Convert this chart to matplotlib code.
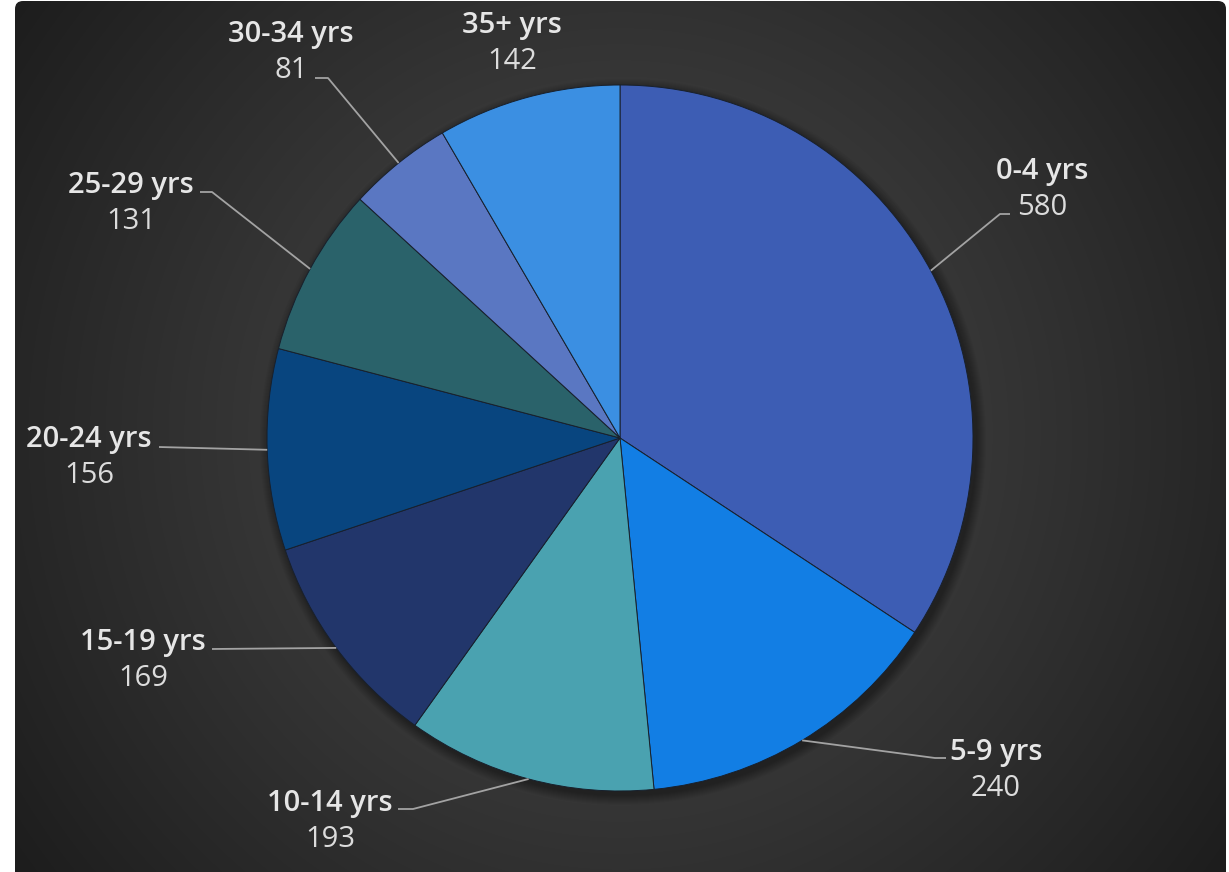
import numpy as np
import matplotlib
matplotlib.use('Agg')
import matplotlib.pyplot as plt
from matplotlib.patches import FancyBboxPatch, Circle

# data
categories = ['0-4 yrs', '5-9 yrs', '10-14 yrs', '15-19 yrs',
              '20-24 yrs', '25-29 yrs', '30-34 yrs', '35+ yrs']
values = [580, 240, 193, 169, 156, 131, 81, 142]
colors = ['#3d5db4', '#127ee4', '#4aa2b0', '#22366b',
          '#08457f', '#2a626a', '#5a77c2', '#3b8fe2']

# layout (pixel coords, y from top): label centre x, label baseline y, leader elbow, leader end
label_pos = [(1042, 179), (996, 760), (330, 811), (143, 650),
             (89, 447), (131, 193), (291, 42), (512, 33)]
elbows = [(1000, 214), (935, 758), (413, 809), (212, 649),
          (159, 447), (212, 192), (328, 78), None]
ends = [(1010, 214), (946, 758), (398, 809), (212, 649),
        (159, 447), (200, 192), (315, 78), None]

W, H = 1229, 872
cx, cy, R = 620, 438, 353

def py(y):
    return H - y

fig = plt.figure(figsize=(W / 100, H / 100), dpi=100)
fig.patch.set_facecolor('white')
ax = fig.add_axes([0, 0, 1, 1])
ax.set_xlim(0, W)
ax.set_ylim(0, H)
ax.set_aspect('equal')
ax.axis('off')

# dark radial gradient panel
xx, yy = np.meshgrid(np.arange(W), np.arange(H))
d = np.hypot(xx - cx, yy - cy) / np.hypot(cx, cy)
shade = 0x4a - (0x4a - 0x1c) * np.clip(d, 0, 1) ** 1.1
img = np.dstack([shade, shade, shade]) / 255.0
panel = FancyBboxPatch((15, -20), 1211, H + 20 - 1, boxstyle='round,pad=0,rounding_size=8',
                       facecolor='none', edgecolor='none', transform=ax.transData)
ax.add_patch(panel)
bg = ax.imshow(img, extent=(0, W, H, 0), origin='upper', zorder=0)
bg.set_clip_path(panel)
# imshow resets limits
ax.set_xlim(0, W)
ax.set_ylim(0, H)

# soft shadow under the pie
for k in range(10):
    ax.add_patch(Circle((cx + 3, py(cy) - 4), R + 10 - k, facecolor='black',
                        edgecolor='none', alpha=0.035, zorder=1))

wedges, _ = ax.pie(values, colors=colors, startangle=90, counterclock=False,
                   center=(cx, py(cy)), radius=R, frame=True,
                   wedgeprops=dict(edgecolor='#18202c', linewidth=0.7))
for w in wedges:
    w.set_zorder(2)
ax.set_xlim(0, W)
ax.set_ylim(0, H)
ax.axis('off')

total = sum(values)
cum = 0
for i, (cat, v) in enumerate(zip(categories, values)):
    mid = (cum + v / 2) / total * 2 * np.pi
    cum += v
    ex = cx + R * np.sin(mid)
    ey = cy - R * np.cos(mid)
    if elbows[i] is not None:
        xs = [ex, elbows[i][0], ends[i][0]]
        ys = [py(ey), py(elbows[i][1]), py(ends[i][1])]
        ax.plot(xs, ys, color='#a3a3a3', lw=1.3, zorder=3, solid_capstyle='butt')
    lx, ly = label_pos[i]
    ax.text(lx, py(ly), cat, ha='center', va='baseline', fontsize=21,
            family='Open Sans', weight='semibold', color='#e6e6e6', zorder=4)
    ax.text(lx, py(ly + 36), str(v), ha='center', va='baseline', fontsize=21,
            family='Open Sans', color='#dcdcdc', zorder=4)

fig.savefig('out.png', dpi=100, facecolor='white')
